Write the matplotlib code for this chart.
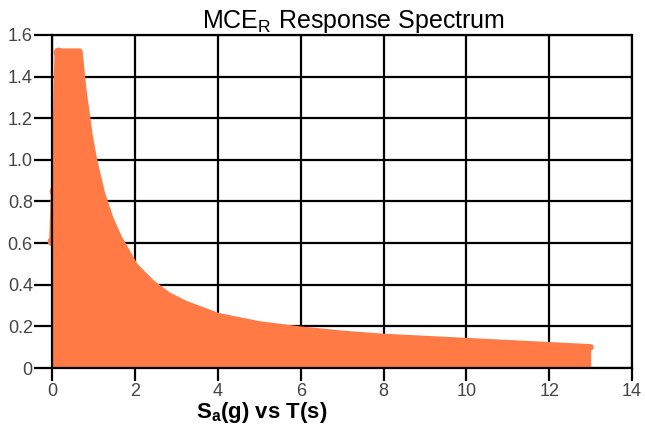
import numpy as np
import matplotlib.pyplot as plt

plt.rcParams['font.family'] = ['Liberation Sans', 'DejaVu Sans']

# MCE_R spectrum values
period = [0, 0.04, 0.08, 0.13, 0.3, 0.5, 0.66, 0.75, 0.9, 1.0, 1.2, 1.4, 1.6, 1.8,
          2.0, 2.4, 2.8, 3.2, 3.6, 4.0, 5.0, 6.0, 7.0, 8.0, 9.0, 10.0, 11.0, 12.0, 13.0]
sa = [0.61, 0.85, 1.1, 1.52, 1.52, 1.52, 1.52, 1.34, 1.12, 1.01, 0.84, 0.72, 0.63, 0.56,
      0.49, 0.41, 0.35, 0.31, 0.28, 0.25, 0.21, 0.185, 0.165, 0.15, 0.14, 0.13, 0.12, 0.11, 0.1]

xticks = [0, 2, 4, 6, 8, 10, 12, 14]
yticks = [0, 0.2, 0.4, 0.6, 0.8, 1.0, 1.2, 1.4, 1.6]
ylabels = ['0', '0.2', '0.4', '0.6', '0.8', '1.0', '1.2', '1.4', '1.6']

color = '#FF7A45'

fig = plt.figure(figsize=(6.45, 4.25), dpi=100)
ax = fig.add_axes([0.081, 0.134, 0.899, 0.784])

ax.fill_between(period, sa, 0, color=color, lw=0, zorder=3)
ax.plot(period, sa, '-', color=color, lw=4.5, solid_capstyle='round',
        solid_joinstyle='round', clip_on=False, zorder=4)
# the first few points poke out past the left axis
ax.plot(period[:4], sa[:4], 'o', color=color, ms=6, clip_on=False, zorder=4)

ax.set_xlim(0, 14)
ax.set_ylim(0, 1.6)
ax.set_xticks(xticks)
ax.set_yticks(yticks)
ax.set_yticklabels(ylabels)
ax.grid(True, color='black', lw=1.6, zorder=1)
ax.set_axisbelow(True)
for s in ax.spines.values():
    s.set_linewidth(1.6)
    s.set_zorder(5)
ax.tick_params(direction='out', width=1.6, labelsize=13, labelcolor='#444444')
ax.tick_params(axis='y', length=13, pad=1)
ax.tick_params(axis='x', length=9, pad=2)

ax.set_title('MCE$_\\mathregular{R}$ Response Spectrum', fontsize=18, x=0.52, pad=4)
ax.set_xlabel('S$_\\mathregular{a}$(g) vs T(s)', fontsize=16, fontweight='bold', x=0.362, labelpad=0)

plt.savefig('out.png', dpi=100)
